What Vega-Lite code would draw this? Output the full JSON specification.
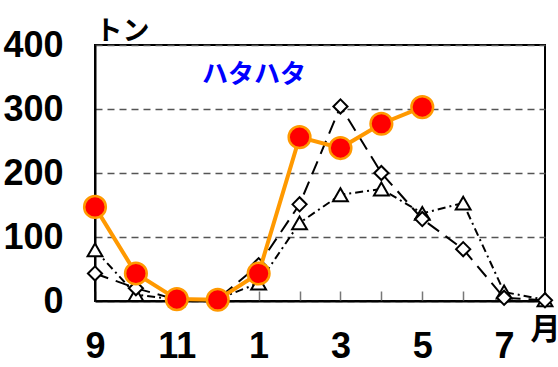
{
  "$schema": "https://vega.github.io/schema/vega-lite/v6.json",
  "width": 450,
  "height": 256,
  "autosize": {"type": "none"},
  "padding": {"left": 95, "top": 45, "right": 13, "bottom": 66},
  "background": "white",
  "title": {
    "text": "ハタハタ",
    "anchor": "middle",
    "frame": "group",
    "orient": "top",
    "offset": 0,
    "baseline": "top",
    "dx": -66,
    "dy": 71,
    "font": "Noto Sans CJK JP",
    "fontSize": 26,
    "fontWeight": "bold",
    "color": "#0000FF"
  },
  "config": {
    "view": {"stroke": "black", "strokeWidth": 2},
    "axis": {
      "labelFont": "Liberation Sans, Noto Sans CJK JP, sans-serif",
      "labelFontSize": 36,
      "labelFontWeight": "bold",
      "labelColor": "black",
      "domainColor": "black",
      "domainWidth": 2
    }
  },
  "data": {
    "values": [
      {"m": "9", "a": 147, "b": 43, "c": 80},
      {"m": "10", "a": 43, "b": 20, "c": 10},
      {"m": "11", "a": 3, "b": 2, "c": 2},
      {"m": "12", "a": 2, "b": 3, "c": 3},
      {"m": "1", "a": 43, "b": 56, "c": 28},
      {"m": "2", "a": 256, "b": 151, "c": 122},
      {"m": "3", "a": 239, "b": 304, "c": 166},
      {"m": "4", "a": 277, "b": 200, "c": 175},
      {"m": "5", "a": 303, "b": 128, "c": 137},
      {"m": "6", "a": null, "b": 81, "c": 153},
      {"m": "7", "a": null, "b": 5, "c": 14},
      {"m": "8", "a": null, "b": 1, "c": 2}
    ]
  },
  "encoding": {
    "x": {
      "field": "m",
      "type": "ordinal",
      "scale": {"type": "point", "padding": 0, "domain": ["9","10","11","12","1","2","3","4","5","6","7","8"]},
      "axis": {
        "title": null,
        "labelAngle": 0,
        "tickColor": "#777",
        "tickWidth": 1.5,
        "tickSize": -10,
        "labelPadding": 38,
        "labelFlush": false,
        "labelFontSize": {"condition": {"test": "datum.value == '8'", "value": 30}, "value": 36},
        "labelBaseline": {"condition": {"test": "datum.value == '8'", "value": "middle"}, "value": "top"},
        "labelExpr": "datum.value == '8' ? '月' : (indexof(['9','11','1','3','5','7'], datum.value) >= 0 ? datum.label : '')"
      }
    }
  },
  "layer": [
    {
      "mark": {"type": "line", "color": "black", "strokeWidth": 2, "strokeDash": [8, 4, 2, 4]},
      "encoding": {
        "y": {
          "field": "c",
          "type": "quantitative",
          "scale": {"domain": [0, 400], "nice": false},
          "axis": {
            "values": [0, 100, 200, 300, 400],
            "ticks": false,
            "labelPadding": 32,
            "grid": true,
            "gridColor": "#555",
            "gridWidth": 1.5,
            "gridDash": [7, 5],
            "title": "トン",
            "titleAngle": 0,
            "titleX": 0,
            "titleY": 0,
            "titleAlign": "left",
            "titleBaseline": "bottom",
            "titleFont": "Noto Sans CJK JP",
            "titleFontSize": 27,
            "titleFontWeight": "bold",
            "titleColor": "black"
          }
        }
      }
    },
    {
      "mark": {"type": "line", "color": "black", "strokeWidth": 2, "strokeDash": [14, 8]},
      "encoding": {"y": {"field": "b", "type": "quantitative"}}
    },
    {
      "mark": {"type": "point", "shape": "triangle-up", "filled": true, "fill": "white", "stroke": "black", "strokeWidth": 2, "size": 220, "opacity": 1},
      "encoding": {"y": {"field": "c", "type": "quantitative"}}
    },
    {
      "mark": {"type": "point", "shape": "diamond", "filled": true, "fill": "white", "stroke": "black", "strokeWidth": 2, "size": 200, "opacity": 1},
      "encoding": {"y": {"field": "b", "type": "quantitative"}}
    },
    {
      "mark": {"type": "line", "color": "#FF9900", "strokeWidth": 4},
      "encoding": {"y": {"field": "a", "type": "quantitative"}}
    },
    {
      "mark": {"type": "point", "shape": "circle", "filled": true, "fill": "#FF0000", "stroke": "#FF9900", "strokeWidth": 2.5, "size": 470, "opacity": 1},
      "encoding": {"y": {"field": "a", "type": "quantitative"}}
    }
  ]
}
